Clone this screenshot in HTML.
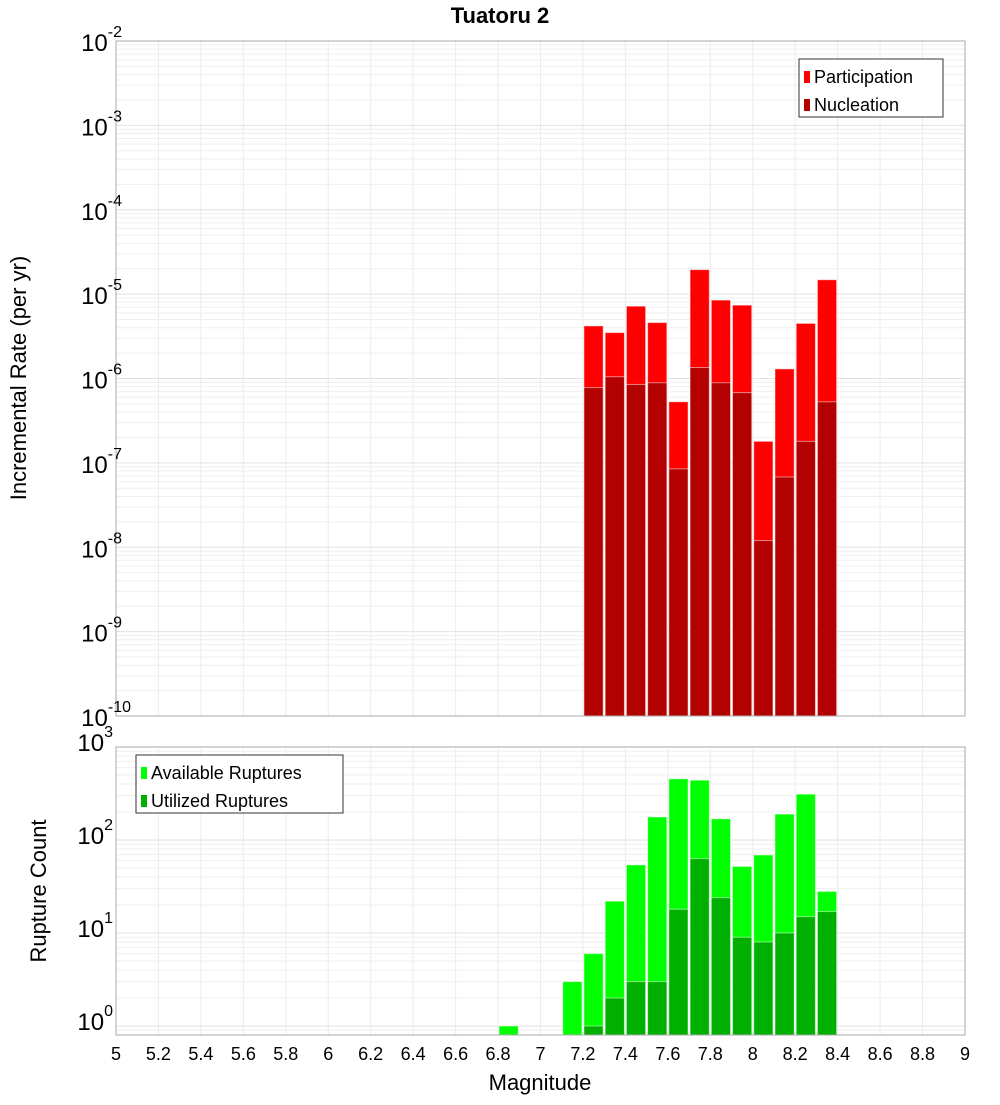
<!DOCTYPE html>
<html><head><meta charset="utf-8"><style>
body{margin:0;background:#fff;}
svg text{font-family:"Liberation Sans","DejaVu Sans",sans-serif;}
</style></head><body>
<svg id="chart" width="1000" height="1100" xmlns="http://www.w3.org/2000/svg"></svg>
<script>
const bins=[7.25,7.35,7.45,7.55,7.65,7.75,7.85,7.95,8.05,8.15,8.25,8.35];
const participation=[4.2e-6,3.5e-6,7.2e-6,4.6e-6,5.3e-7,1.95e-5,8.5e-6,7.4e-6,1.8e-7,1.3e-6,4.5e-6,1.48e-5];
const nucleation=[7.8e-7,1.05e-6,8.5e-7,8.9e-7,8.5e-8,1.35e-6,8.9e-7,6.8e-7,1.2e-8,6.8e-8,1.8e-7,5.3e-7];
const countBins=[6.85,7.15,7.25,7.35,7.45,7.55,7.65,7.75,7.85,7.95,8.05,8.15,8.25,8.35];
const available=[1,3,6,22,54,177,455,440,169,52,69,190,311,28];
const utilizedBins=[7.25,7.35,7.45,7.55,7.65,7.75,7.85,7.95,8.05,8.15,8.25,8.35];
const utilized=[1,2,3,3,18,63,24,9,8,10,15,17];
const xTicks=[5,5.2,5.4,5.6,5.8,6,6.2,6.4,6.6,6.8,7,7.2,7.4,7.6,7.8,8,8.2,8.4,8.6,8.8,9];
const topExps=[-2,-3,-4,-5,-6,-7,-8,-9,-10];
const botExps=[3,2,1,0];

const NS="http://www.w3.org/2000/svg";
const svg=document.getElementById('chart');
function el(tag,attrs,parent){const e=document.createElementNS(NS,tag);for(const k in attrs)e.setAttribute(k,attrs[k]);(parent||svg).appendChild(e);return e;}
const X0=116,X1=965;
const xs=v=>X0+(v-5)/4*(X1-X0);
const T0=41,T1=716;
const ysTop=v=>T0+(-2-Math.log10(v))/8*(T1-T0);
const B0=747,B1=1035,Bdec=93;
const ysBot=v=>B0+(3-Math.log10(v))*Bdec;

function grid(y0,y1,decY){
  for(let i=0;i<=20;i++){const l=el('line',{x1:xs(5+i*0.2),x2:xs(5+i*0.2),y1:y0,y2:y1,stroke:'#ececec','stroke-width':1});
    }
  decY.forEach(f=>{for(let m=1;m<=9;m++){const y=f(m);if(y<y0-0.5||y>y1+0.5)continue;
    const l=el('line',{x1:X0,x2:X1,y1:y,y2:y,stroke:m===1?'#e2e2e2':'#efefef','stroke-width':1});
    }});
}
// top grid
grid(T0,T1,[-3,-4,-5,-6,-7,-8,-9,-10,-2].map(e=>m=>ysTop(m*Math.pow(10,e))));
grid(B0,B1,[-1,0,1,2,3].map(e=>m=>ysBot(m*Math.pow(10,e))));

const bw=(X1-X0)/40;
function bar(x,v,yf,base,color,name){
  const y=yf(v);const r=el('rect',{x:xs(x)-bw/2+1,y:y,width:bw-2,height:base-y,fill:color,stroke:'#fff','stroke-opacity':0.5,'stroke-width':1});
  }
bins.forEach((b,i)=>bar(b,participation[i],ysTop,T1,'#ff0000','participation-bar'));
bins.forEach((b,i)=>bar(b,nucleation[i],ysTop,T1,'#b30000','nucleation-bar'));
countBins.forEach((b,i)=>bar(b,available[i],ysBot,B1,'#00ff00','available-bar'));
utilizedBins.forEach((b,i)=>bar(b,utilized[i],ysBot,B1,'#00b000','utilized-bar'));

el('rect',{x:X0,y:T0,width:X1-X0,height:T1-T0,fill:'none',stroke:'#aaa',});
el('rect',{x:X0,y:B0,width:X1-X0,height:B1-B0,fill:'none',stroke:'#aaa',});

function expLabel(y,e,name){
  const t=el('text',{x:104,y:y+10,'font-size':24,'text-anchor':'end',fill:'#000'});
  
  t.appendChild(document.createTextNode('10'));
  const s=el('tspan',{dy:-14,'font-size':16},t);s.textContent=String(e);
  // shift so superscript fits
  t.setAttribute('x',104+String(e).length*9);
}
topExps.forEach(e=>expLabel(ysTop(Math.pow(10,e)),e,'top-y-tick-label'));
botExps.forEach(e=>expLabel(ysBot(Math.pow(10,e))-6,e,'bottom-y-tick-label'));
xTicks.forEach(v=>{const t=el('text',{x:xs(v),y:1060,'font-size':18,'text-anchor':'middle'});t.textContent=String(v);
  });

let t=el('text',{x:500,y:23,'font-size':22,'font-weight':'bold','text-anchor':'middle',});t.textContent='Tuatoru 2';
t=el('text',{x:540,y:1090,'font-size':22,'text-anchor':'middle',});t.textContent='Magnitude';
t=el('text',{x:0,y:0,'font-size':22,'text-anchor':'middle',transform:'translate(26,378) rotate(-90)',});t.textContent='Incremental Rate (per yr)';
t=el('text',{x:0,y:0,'font-size':22,'text-anchor':'middle',transform:'translate(46,891) rotate(-90)',});t.textContent='Rupture Count';

function legend(x,y,w,items,name){
  const g=el('g',{});
  el('rect',{x:x,y:y,width:w,height:58,fill:'#fff',stroke:'#333'},g);
  items.forEach((it,i)=>{el('rect',{x:x+5,y:y+12+i*28,width:6,height:12,fill:it[1]},g);
    const tt=el('text',{x:x+15,y:y+24+i*28,'font-size':18},g);tt.textContent=it[0];});
}
legend(799,59,144,[['Participation','#ff0000'],['Nucleation','#b30000']],'top-legend');
legend(136,755,207,[['Available Ruptures','#00ff00'],['Utilized Ruptures','#00b000']],'bottom-legend');
</script>
</body></html>
